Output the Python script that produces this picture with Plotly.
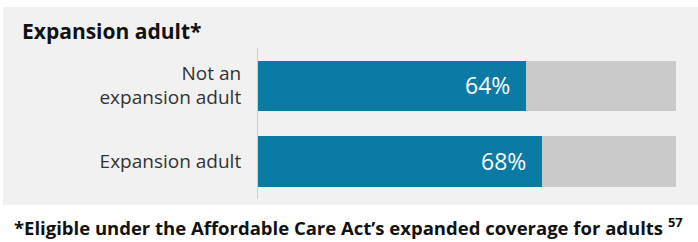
import plotly.graph_objects as go

W, H = 698, 242

categories = ["Not an<br>expansion adult", "Expansion adult"]
values = [64, 68]
totals = [100, 100]
title_text = "Expansion adult*"
footnote_text = "*Eligible under the Affordable Care Act’s expanded coverage for adults <sup>57</sup>"

BLUE = "#0b7aa5"
GREY = "#cacaca"
PANEL = "#f1f1f1"
FONT = "Open Sans"

def px(x):
    return x / W

def py(y):
    return 1 - y / H

fig = go.Figure()
fig.add_trace(go.Bar(y=categories, x=totals, orientation="h", marker=dict(color=GREY, line=dict(width=0)),
                     width=0.67, hoverinfo="skip", showlegend=False))
fig.add_trace(go.Bar(y=categories, x=values, orientation="h", marker=dict(color=BLUE, line=dict(width=0)),
                     width=0.67, showlegend=False))

for c, v in zip(categories, values):
    fig.add_annotation(x=v, y=c, xref="x", yref="y", text=f"{v}%", showarrow=False,
                       xanchor="right", yanchor="middle", xshift=-14,
                       font=dict(family=FONT, size=23, color="white"))

# panel
fig.add_shape(type="rect", xref="paper", yref="paper", x0=px(3), x1=px(698), y0=py(205), y1=py(7),
              fillcolor=PANEL, line=dict(width=0), layer="below")

fig.add_annotation(x=px(20), y=py(31), xref="paper", yref="paper", text=f"<b>{title_text}</b>",
                   showarrow=False, xanchor="left", yanchor="middle",
                   font=dict(family=FONT, size=21, color="#111111"))
fig.add_annotation(x=px(12), y=py(226), xref="paper", yref="paper", text=f"<b>{footnote_text}</b>",
                   showarrow=False, xanchor="left", yanchor="middle",
                   font=dict(family=FONT, size=18.5, color="#111111"))

fig.update_layout(
    width=W, height=H,
    margin=dict(l=0, r=0, t=0, b=0),
    paper_bgcolor="white", plot_bgcolor="rgba(0,0,0,0)",
    barmode="overlay", bargap=0,
    xaxis=dict(domain=[px(258), px(676)], range=[0, 100], visible=False, fixedrange=True),
    yaxis=dict(domain=[py(199), py(47.5)], range=[1.5, -0.5], showline=True, linecolor="#cfcfcf",
               linewidth=1, ticks="", ticklabelstandoff=12, showgrid=False, zeroline=False,
               tickfont=dict(family=FONT, size=19, color="#333333"), fixedrange=True),
)

fig.write_html("out.html", config={"displayModeBar": False},
               post_script="document.body.style.margin='0';document.body.style.overflow='hidden';")
